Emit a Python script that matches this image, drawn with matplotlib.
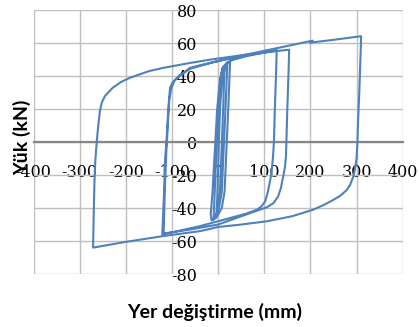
import matplotlib
matplotlib.use('Agg')
import matplotlib.pyplot as plt

plt.rcParams['axes.unicode_minus'] = False

# small cycles around zero
small_x = [0, 4, 8, 14, 11, 4, 0, -4, -2, 4, 9, 14, 20, 16, 8, 2, -6, -10, -8, 0, 5, 10,
           18, 26, 22, 14, 8, -4, -14, -16, -12, -2, 4, 10, 20, 28]
small_y = [0, 30, 42, 46, 20, -30, -40, -45, -35, 20, 38, 44, 47, 20, -30, -40, -45, -47, -35, 20, 38, 45,
           47.5, 48.5, 20, -30, -40, -46, -47.5, -44, -30, 20, 38, 45, 48.5, 49.5]

# cycles to ~125 and ~155 mm
mid_x = [28, 60, 127, 126, 123, 121, 119, 116, 113, 108, 102, 94, 84, 60, 33, 0, -40, -80,
         -121, -120, -117, -115, -112, -109, -106, -104, -99, -89, -75, -61, -40, -17, 30,
         80, 120, 154, 153, 150, 148, 147, 145, 141, 136, 130, 120, 106, 80, 60, 0, -60,
         -118, -117, -115, -112, -109, -106, -102, -95, -85, -60, -10, 60, 120, 205, 200]
mid_y = [49.5, 52, 55.8, 45, 20, 0, -9, -18, -23, -30, -36, -39, -41, -43.5, -45.5, -48, -51, -53.5,
         -56, -50, -30, -11, 0, 15, 27, 33, 36, 39, 42, 45, 46.5, 48, 51,
         53.5, 55, 56, 45, 20, 0, -9, -15, -21, -28, -33, -37, -39.5, -42, -44, -50, -53,
         -55.5, -45, -25, -5, 10, 25, 32, 37, 40, 44.5, 48.5, 53, 56.5, 61.5, 60.3]

# large cycle to ~310 mm
big_x = [200, 250, 310, 309, 306, 303, 302, 300, 297, 293, 286, 279, 265, 250, 230, 206,
         160, 106, 50, 0, -39, -119, -200, -271, -270, -268, -266, -263, -259, -256, -252,
         -245, -235, -228, -210, -191, -150, -119, -60, -17, 60, 120]
big_y = [60.3, 62, 64.2, 55, 30, 10, 0, -10, -16, -21, -26, -29, -32.5, -35, -38, -41,
         -45, -48, -50, -51.5, -54, -57, -60.5, -64, -50, -25, -11, 0, 12, 19, 24,
         28, 31, 33, 36.5, 39, 43, 45, 48, 50, 53, 55]

x_ticks = [-400, -300, -200, -100, 0, 100, 200, 300, 400]
y_ticks = [-80, -60, -40, -20, 0, 20, 40, 60, 80]

fig = plt.figure(figsize=(4.19, 3.27), dpi=100)
ax = fig.add_axes([0.080, 0.162, 0.881, 0.807])

blue = '#4F81BD'
for xs, ys in [(small_x, small_y), (mid_x, mid_y), (big_x, big_y)]:
    ax.plot(xs, ys, color=blue, lw=1.5, zorder=3, solid_joinstyle='round')

ax.set_xlim(-400, 400)
ax.set_ylim(-80, 80)
ax.set_xticks(x_ticks)
ax.set_yticks(y_ticks)
ax.grid(True, color='#BFBFBF', lw=1.0)

ax.spines['top'].set_visible(False)
ax.spines['right'].set_visible(False)
ax.spines['left'].set_position(('data', 0))
ax.spines['bottom'].set_position(('data', 0))
ax.spines['left'].set_color('#BFBFBF')
ax.spines['bottom'].set_color('#868686')
ax.spines['bottom'].set_linewidth(1.6)

ax.tick_params(axis='both', length=0, colors='#000000', labelsize=11.5)
ax.tick_params(axis='x', pad=16)
ax.tick_params(axis='y', pad=15)
for lab in ax.get_xticklabels() + ax.get_yticklabels():
    lab.set_fontfamily('DejaVu Serif')

fig.text(0.513, 0.045, 'Yer değiştirme (mm)', ha='center', va='center',
         fontsize=14, fontweight='bold', family='Lato')
fig.text(0.053, 0.58, 'Yük (kN)', ha='center', va='center', rotation=90,
         fontsize=14, fontweight='bold', family='Lato')

fig.savefig('out.png', dpi=100)
